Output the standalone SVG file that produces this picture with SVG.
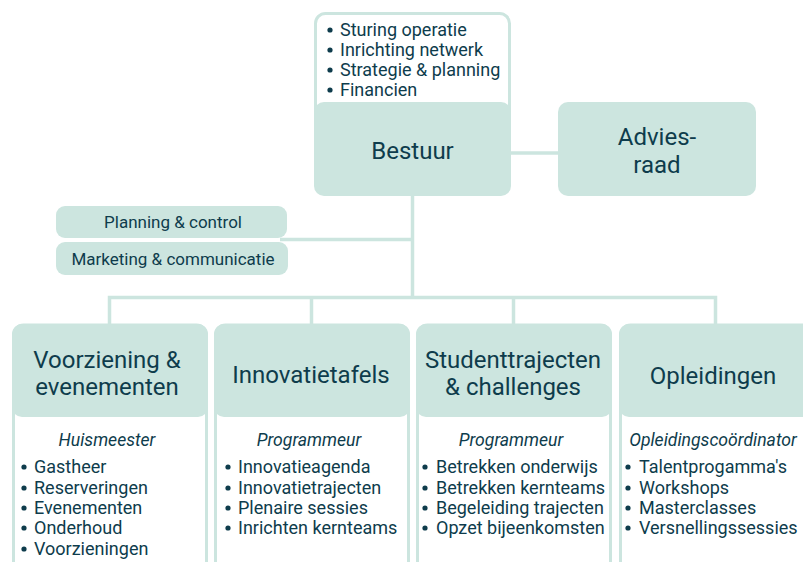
<svg xmlns="http://www.w3.org/2000/svg" width="803" height="562" viewBox="0 0 803 562">
<style>
.box{fill:#cce5df}
.out{fill:#fff;stroke:#cce5df;stroke-width:3}
.ln{fill:none;stroke:#cce5df;stroke-width:3.5}
.dot{fill:#0e3c4c}
text{font-family:Roboto,"Noto Sans",sans-serif;fill:#0e3c4c}
.t{font-size:24px;text-anchor:middle;dominant-baseline:central}
.s{font-size:17px;text-anchor:middle;dominant-baseline:central}
.r{font-size:17.6px;font-style:italic;text-anchor:middle;dominant-baseline:central}
.b{font-size:18px;dominant-baseline:central}
</style>
<rect width="803" height="562" fill="#fff"/>
<g id="connectors">
<path class="ln" d="M511 153H558"/>
<path class="ln" d="M412.5 196V297"/>
<path class="ln" d="M280 239.5H412.5"/>
<path class="ln" d="M109.5 326V297.5H715.5V326"/>
<path class="ln" d="M311.5 297.5V326"/>
<path class="ln" d="M513.5 297.5V326"/>
</g>
<g id="bestuur">
<rect class="out" x="315.5" y="13.5" width="194" height="170" rx="10"/>
<rect class="box" x="314" y="102" width="197" height="94" rx="10"/>
<text class="t" x="412.5" y="151">Bestuur</text>
<g class="dot"><circle cx="330" cy="30" r="2.6"/><circle cx="330" cy="50" r="2.6"/><circle cx="330" cy="70" r="2.6"/><circle cx="330" cy="90" r="2.6"/></g>
<text class="b"><tspan x="340" y="29">Sturing operatie</tspan><tspan x="340" y="49">Inrichting netwerk</tspan><tspan x="340" y="69">Strategie &amp; planning</tspan><tspan x="340" y="89">Financien</tspan></text>
</g>
<g id="adviesraad">
<rect class="box" x="558" y="102" width="198" height="94" rx="10"/>
<text class="t" x="657" y="137">Advies-</text>
<text class="t" x="657" y="165">raad</text>
</g>
<g id="planning">
<rect class="box" x="56" y="206" width="231" height="32" rx="9"/>
<text class="s" x="173" y="222">Planning &amp; control</text>
</g>
<g id="marketing">
<rect class="box" x="56" y="242" width="232" height="33" rx="9"/>
<text class="s" x="173" y="259">Marketing &amp; communicatie</text>
</g>
<g id="voorziening">
<rect class="out" x="13.5" y="325" width="193" height="260" rx="10"/>
<rect class="box" x="12" y="324" width="196" height="93" rx="10"/>
<text class="t" x="107" y="360">Voorziening &amp;</text>
<text class="t" x="107" y="387">evenementen</text>
<text class="r" x="107" y="440">Huismeester</text>
<g class="dot"><circle cx="24" cy="467" r="2.6"/><circle cx="24" cy="488" r="2.6"/><circle cx="24" cy="508" r="2.6"/><circle cx="24" cy="528" r="2.6"/><circle cx="24" cy="549" r="2.6"/></g>
<text class="b"><tspan x="34" y="466">Gastheer</tspan><tspan x="34" y="487">Reserveringen</tspan><tspan x="34" y="507">Evenementen</tspan><tspan x="34" y="527">Onderhoud</tspan><tspan x="34" y="548">Voorzieningen</tspan></text>
</g>
<g id="innovatietafels">
<rect class="out" x="215.5" y="325" width="193" height="260" rx="10"/>
<rect class="box" x="214" y="324" width="196" height="93" rx="10"/>
<text class="t" x="311" y="375">Innovatietafels</text>
<text class="r" x="309" y="440">Programmeur</text>
<g class="dot"><circle cx="228" cy="467" r="2.6"/><circle cx="228" cy="488" r="2.6"/><circle cx="228" cy="508" r="2.6"/><circle cx="228" cy="528" r="2.6"/></g>
<text class="b"><tspan x="238" y="466">Innovatieagenda</tspan><tspan x="238" y="487">Innovatietrajecten</tspan><tspan x="238" y="507">Plenaire sessies</tspan><tspan x="238" y="527">Inrichten kernteams</tspan></text>
</g>
<g id="studenttrajecten">
<rect class="out" x="417.5" y="325" width="193" height="260" rx="10"/>
<rect class="box" x="416" y="324" width="196" height="93" rx="10"/>
<text class="t" x="513" y="360">Studenttrajecten</text>
<text class="t" x="513" y="387">&amp; challenges</text>
<text class="r" x="511" y="440">Programmeur</text>
<g class="dot"><circle cx="425" cy="467" r="2.6"/><circle cx="425" cy="488" r="2.6"/><circle cx="425" cy="508" r="2.6"/><circle cx="425" cy="528" r="2.6"/></g>
<text class="b"><tspan x="436" y="466">Betrekken onderwijs</tspan><tspan x="436" y="487">Betrekken kernteams</tspan><tspan x="436" y="507">Begeleiding trajecten</tspan><tspan x="436" y="527">Opzet bijeenkomsten</tspan></text>
</g>
<g id="opleidingen">
<rect class="out" x="620.5" y="325" width="193" height="260" rx="10"/>
<rect class="box" x="619" y="324" width="196" height="93" rx="10"/>
<text class="t" x="713" y="376">Opleidingen</text>
<text class="r" x="713" y="440">Opleidingscoördinator</text>
<g class="dot"><circle cx="628" cy="467" r="2.6"/><circle cx="628" cy="488" r="2.6"/><circle cx="628" cy="508" r="2.6"/><circle cx="628" cy="528" r="2.6"/></g>
<text class="b"><tspan x="639" y="466">Talentprogamma's</tspan><tspan x="639" y="487">Workshops</tspan><tspan x="639" y="507">Masterclasses</tspan><tspan x="639" y="527">Versnellingssessies</tspan></text>
</g>
</svg>
